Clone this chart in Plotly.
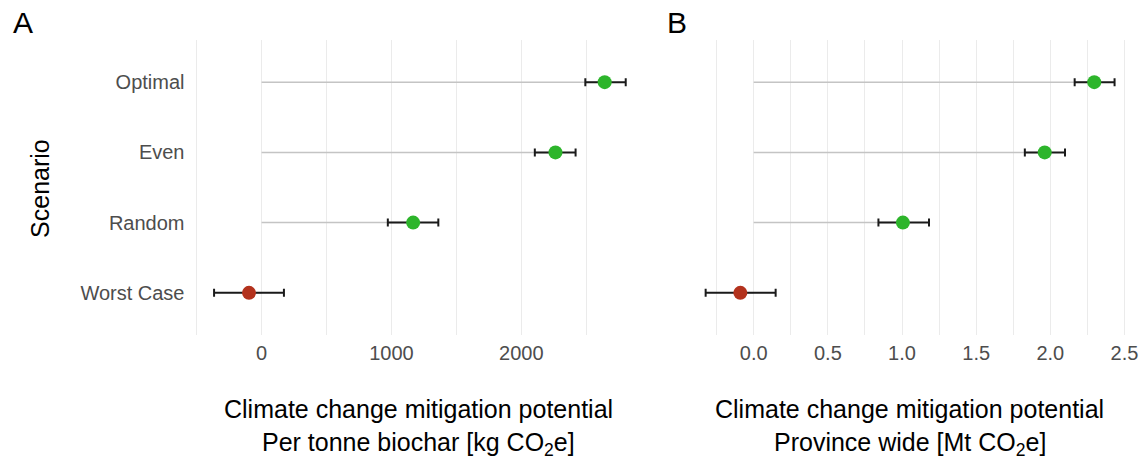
import plotly.graph_objects as go

# ---- data ----
scenarios = ["Optimal", "Even", "Random", "Worst Case"]
a_mean = [2642, 2263, 1167, -97]
a_lo = [2493, 2104, 972, -366]
a_hi = [2804, 2418, 1361, 172]
b_mean = [2.296, 1.962, 1.006, -0.090]
b_lo = [2.164, 1.828, 0.841, -0.324]
b_hi = [2.433, 2.099, 1.182, 0.148]

GREEN = "#2db52b"
RED = "#b3321d"
FONT = "Liberation Sans, Arial, sans-serif"

W, H = 1143, 458


def PX(px):
    return px / W


def PY(py):
    return 1 - py / H


def expanded(lo, hi):
    mn, mx = min(lo + [0]), max(hi + [0])
    pad = (mx - mn) * 0.05
    return [mn - pad, mx + pad]


fig = go.Figure()


def add_panel(mean, lo, hi, xa, ya):
    sx, sy = [], []
    for s, m in zip(scenarios, mean):
        sx += [0, m, None]
        sy += [s, s, None]
    fig.add_trace(go.Scatter(x=sx, y=sy, mode="lines", xaxis=xa, yaxis=ya,
                             line=dict(color="#c4c4c4", width=1.5),
                             hoverinfo="skip", showlegend=False))
    fig.add_trace(go.Scatter(
        x=mean, y=scenarios, mode="markers", xaxis=xa, yaxis=ya,
        marker=dict(size=14, color=[GREEN if m >= 0 else RED for m in mean]),
        error_x=dict(type="data", symmetric=False,
                     array=[h - m for h, m in zip(hi, mean)],
                     arrayminus=[m - l for m, l in zip(mean, lo)],
                     color="#1a1a1a", thickness=2, width=4),
        showlegend=False))


add_panel(a_mean, a_lo, a_hi, "x", "y")
add_panel(b_mean, b_lo, b_hi, "x2", "y2")

grid = "#ebebeb"
common_x = dict(showline=False, zeroline=False, showgrid=True, gridcolor=grid,
                gridwidth=1.2, ticks="", tickfont=dict(size=20, color="#4d4d4d", family=FONT),
                ticklabelstandoff=4, ticklabeloverflow="allow")
ydom = [PY(335), PY(40)]
fig.update_layout(
    width=W, height=H,
    margin=dict(l=0, r=0, t=0, b=0),
    paper_bgcolor="white", plot_bgcolor="white",
    font=dict(family=FONT),
    xaxis=dict(common_x, domain=[PX(194), PX(648)], anchor="y",
               range=expanded(a_lo, a_hi), tick0=0, dtick=1000,
               minor=dict(dtick=500, tick0=0, showgrid=True, gridcolor=grid, gridwidth=1.2)),
    xaxis2=dict(common_x, domain=[PX(687), PX(1138)], anchor="y2",
                range=expanded(b_lo, b_hi), tick0=0, dtick=0.5, tickformat=".1f",
                minor=dict(dtick=0.25, tick0=0, showgrid=True, gridcolor=grid, gridwidth=1.2)),
    yaxis=dict(domain=ydom, anchor="x", type="category",
               categoryorder="array", categoryarray=scenarios[::-1],
               range=[-0.6, 3.6], showgrid=False, zeroline=False, ticks="",
               tickfont=dict(size=20, color="#4d4d4d", family=FONT),
               ticklabelstandoff=8),
    yaxis2=dict(domain=ydom, anchor="x2", type="category",
                categoryorder="array", categoryarray=scenarios[::-1],
                range=[-0.6, 3.6], showgrid=False, zeroline=False,
                showticklabels=False, ticks=""),
)

ann = []


def txt(x, y, t, size, **kw):
    ann.append(dict(x=PX(x), y=PY(y), xref="paper", yref="paper", text=t, showarrow=False,
                    font=dict(size=size, color="black", family=FONT), **kw))


txt(420, 409, "Climate change mitigation potential", 25, xanchor="center", yanchor="middle")
txt(420, 444, "Per tonne biochar [kg CO<sub>2</sub>e]", 25, xanchor="center", yanchor="middle")
txt(912, 409, "Climate change mitigation potential", 25, xanchor="center", yanchor="middle")
txt(912, 444, "Province wide [Mt CO<sub>2</sub>e]", 25, xanchor="center", yanchor="middle")
txt(40, 188, "Scenario", 25, xanchor="center", yanchor="middle", textangle=-90)
txt(11, 22, "A", 30, xanchor="left", yanchor="middle")
txt(667, 22, "B", 30, xanchor="left", yanchor="middle")
fig.update_layout(annotations=ann)

fig.write_html("out.html",
               config={"displayModeBar": False},
               post_script="document.body.style.margin='0';document.body.style.overflow='hidden';")
